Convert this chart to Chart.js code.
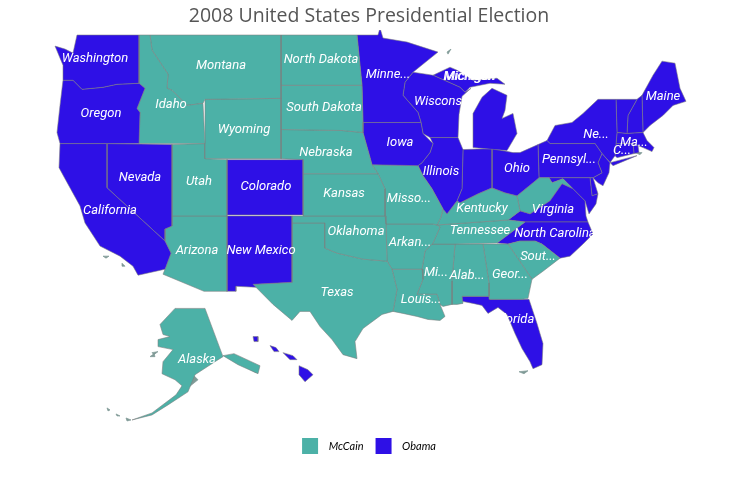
<!DOCTYPE html>
<html>
<head>
<meta charset="utf-8">
<title>2008 United States Presidential Election</title>
<script src="https://cdn.jsdelivr.net/npm/chart.js@4/dist/chart.umd.min.js"></script>
<style>
  html, body { margin: 0; padding: 0; background: #fff; }
  canvas { display: block; }
</style>
</head>
<body>
<canvas id="map" width="738" height="489"></canvas>
<script>
const chartTitle = '2008 United States Presidential Election'
const parties = ['McCain', 'Obama']
const partyColors = ['#4cb1a7', '#2e10e6']

// state name, party index into parties
const stateNames = ['Washington', 'Oregon', 'California', 'Nevada', 'Idaho', 'Montana', 'Wyoming', 'Utah', 'Colorado', 'Arizona',
  'New Mexico', 'North Dakota', 'South Dakota', 'Nebraska', 'Kansas', 'Oklahoma', 'Texas', 'Minnesota', 'Iowa', 'Missouri',
  'Arkansas', 'Louisiana', 'Wisconsin', 'Illinois', 'Michigan', 'Michigan', 'Indiana', 'Ohio', 'Kentucky', 'Tennessee',
  'Mississippi', 'Alabama', 'Georgia', 'Florida', 'South Carolina', 'North Carolina', 'Virginia', 'West Virginia', 'Maryland', 'Delaware',
  'Pennsylvania', 'New Jersey', 'New York', 'Connecticut', 'Rhode Island', 'Massachusetts', 'Vermont', 'New Hampshire', 'Maine', 'Alaska',
  'Alaska', 'Hawaii', 'Hawaii', 'Hawaii', 'Hawaii']
const stateParty = [1, 1, 1, 1, 0, 0, 0, 0, 1, 0,
  1, 0, 0, 0, 0, 0, 0, 1, 1, 0,
  0, 0, 1, 1, 1, 1, 1, 1, 0, 0,
  0, 0, 0, 1, 0, 1, 1, 0, 1, 1,
  1, 1, 1, 1, 1, 1, 1, 1, 1, 0,
  0, 1, 1, 1, 1]

// outlines in map units
const stateOutlines = [
  [[77,35],[139,35],[139,83],[117,84],[103,87],[82,89],[73,80],[63,80],[63,65],[55,46],[65,49],[73,53],[75,44]],
  [[63,80],[73,80],[82,89],[103,87],[117,84],[139,83],[145,88],[137,108],[140,112],[139,143],[60,143],[57,132],[60,105]],
  [[60,143],[107,143],[107,187],[165,240],[171,252],[165,268],[138,274],[133,265],[120,255],[100,245],[85,222],[80,205],[65,178],[59,167]],
  [[107,143],[172,144],[172,225],[165,228],[165,240],[107,187]],
  [[139,35],[150,35],[152,50],[168,74],[167,88],[172,90],[187,105],[203,103],[205,143],[139,143],[140,112],[137,108],[145,88],[139,83]],
  [[150,35],[281,35],[281,98],[205,99],[203,103],[187,105],[172,90],[167,88],[168,74],[152,50]],
  [[205,99],[281,98],[281,158],[205,158]],
  [[172,144],[205,143],[205,158],[227,159],[227,215],[172,215]],
  [[227,159],[303,159],[303,214],[227,214]],
  [[172,215],[227,215],[227,290],[204,290],[163,273],[165,268],[171,252],[165,240],[165,228],[172,225]],
  [[227,215],[292,215],[292,281],[253,283],[256,286],[236,285],[236,290],[227,290]],
  [[281,35],[357,35],[362,85],[281,85]],
  [[281,85],[362,85],[363,122],[363,132],[342,130],[281,129]],
  [[281,129],[342,130],[363,132],[372,164],[378,173],[303,173],[303,159],[281,158]],
  [[303,173],[378,173],[385,188],[385,215],[303,215]],
  [[292,215],[385,215],[386,223],[387,260],[363,258],[337,252],[325,247],[325,222],[292,222]],
  [[292,222],[325,222],[325,247],[337,252],[363,258],[387,260],[392,268],[397,288],[393,310],[382,313],[363,327],[355,340],[357,357],[343,353],[332,338],[320,325],[310,310],[300,310],[292,319],[273,303],[253,283],[292,281]],
  [[357,35],[378,35],[380,28],[383,38],[407,42],[438,52],[413,72],[405,82],[403,95],[418,112],[421,122],[363,122],[362,85]],
  [[363,122],[421,122],[423,133],[433,143],[430,152],[422,162],[418,165],[372,164],[363,132]],
  [[372,164],[418,165],[423,175],[432,188],[443,208],[441,216],[437,224],[433,223],[386,223],[385,215],[385,188],[378,173]],
  [[386,223],[433,223],[437,224],[440,226],[433,242],[425,250],[422,268],[392,268],[387,260]],
  [[392,268],[422,268],[423,278],[417,293],[437,293],[440,303],[445,315],[440,319],[428,318],[417,315],[403,312],[393,310],[397,288]],
  [[413,72],[433,75],[460,87],[465,92],[471,88],[462,96],[459,114],[458,137],[430,137],[423,133],[421,122],[418,112],[403,95],[405,82]],
  [[430,137],[458,137],[463,149],[462,188],[457,200],[447,213],[443,208],[432,188],[423,175],[418,165],[422,162],[430,152],[433,143]],
  [[433,75],[450,67],[457,70],[473,80],[497,78],[505,84],[490,83],[470,87],[465,92],[460,87]],
  [[492,88],[507,95],[505,110],[502,118],[513,113],[517,133],[507,150],[473,147],[473,113],[482,97]],
  [[463,149],[492,148],[492,187],[478,193],[460,202],[457,200],[462,188]],
  [[492,148],[513,152],[520,152],[538,144],[539,177],[533,182],[517,195],[505,192],[492,187]],
  [[437,224],[441,216],[443,208],[447,213],[457,200],[460,202],[478,193],[492,187],[505,192],[517,195],[520,210],[508,219]],
  [[437,224],[508,219],[525,221],[497,242],[455,243],[432,243],[433,242],[440,226]],
  [[432,243],[455,243],[452,280],[452,303],[443,305],[440,303],[437,293],[417,293],[423,278],[422,268],[425,250]],
  [[455,243],[483,243],[489,282],[489,295],[462,295],[463,302],[457,303],[452,303],[452,280]],
  [[483,243],[508,243],[532,278],[528,297],[522,298],[490,298],[489,295],[489,282]],
  [[462,295],[489,295],[490,298],[522,298],[529,298],[537,322],[543,342],[542,363],[533,367],[530,360],[522,347],[515,332],[507,313],[498,306],[488,312],[482,304],[473,302],[462,300]],
  [[508,243],[520,240],[535,240],[542,243],[560,257],[543,270],[532,278]],
  [[497,242],[525,221],[588,221],[593,233],[583,243],[570,255],[560,257],[542,243],[535,240],[520,240],[508,243]],
  [[508,219],[520,210],[530,213],[550,200],[562,183],[573,188],[585,200],[586,215],[588,221],[525,221]],
  [[517,195],[533,182],[539,177],[549,177],[552,182],[563,178],[573,188],[562,183],[550,200],[530,213],[520,210]],
  [[549,177],[590,177],[592,195],[598,193],[596,203],[589,213],[585,200],[573,188],[563,178],[552,182]],
  [[590,177],[593,177],[598,193],[592,195]],
  [[538,144],[547,140],[550,143],[595,143],[602,153],[598,162],[602,172],[593,177],[590,177],[539,177]],
  [[602,153],[610,162],[609,172],[603,185],[598,182],[593,177],[602,172],[598,162]],
  [[547,140],[555,125],[572,122],[583,113],[598,99],[616,99],[617,132],[615,155],[610,162],[637,155],[613,165],[602,153],[595,143],[550,143]],
  [[616,143],[633,143],[634,153],[617,157],[615,155]],
  [[633,143],[638,145],[639,152],[634,153]],
  [[617,132],[627,133],[643,132],[647,140],[654,147],[652,151],[643,147],[638,145],[633,143],[616,143]],
  [[616,99],[637,99],[628,115],[627,133],[617,132]],
  [[637,99],[642,95],[643,132],[627,133],[628,115]],
  [[642,95],[653,75],[662,61],[675,63],[680,88],[686,101],[673,105],[663,115],[650,125],[643,132]],
  [[175,307],[205,307],[223,355],[215,360],[195,373],[188,390],[168,403],[152,413],[132,418],[152,411],[176,393],[182,384],[175,378],[162,372],[163,360],[173,348],[158,345],[158,338],[170,335],[163,333],[160,323]],
  [[223,354],[234,352],[260,364],[258,372],[238,363]],
  [[270,344],[276,346],[279,350],[274,350]],
  [[283,351],[293,354],[297,358],[290,358]],
  [[253,335],[258,335],[258,340],[254,340]],
  [[299,364],[308,368],[313,373],[305,380],[299,373]]
]

// islands and bays, small marks along the coast
const coastMarks = [
  [[447,52],[451,49],[448,54]],
  [[103,255],[109,255],[106,257]],
  [[122,262],[125,265],[122,265]],
  [[107,406],[110,408],[108,409]],
  [[116,412],[120,414],[117,414]],
  [[126,416],[131,418],[127,419]],
  [[150,355],[154,352],[155,355]],
  [[158,350],[154,353],[152,351]],
  [[192,372],[198,378],[188,386],[190,378]],
  [[635,152],[642,152],[640,154]],
  [[656,114],[662,110],[660,116]],
  [[519,370],[528,369],[524,372]],
  [[236,354],[258,365],[256,371],[240,362]]
]
const bayOutlines = [
  [[584,182],[586,182],[588,196],[588,212],[586,212],[586,200]],
  [[77,42],[81,42],[82,54],[78,53]]
]
const bayColors = ['#ffffff', '#b9b5ef']

const labelNames = ['Washington', 'Oregon', 'California', 'Nevada', 'Idaho', 'Montana', 'Wyoming', 'Utah', 'Colorado', 'Arizona',
  'New Mexico', 'North Dakota', 'South Dakota', 'Nebraska', 'Kansas', 'Oklahoma', 'Texas', 'Minne...', 'Iowa', 'Misso...',
  'Arkan...', 'Louis...', 'Wisconsin', 'Michigan', 'Michigan', 'Illinois', 'Kentucky', 'Tennessee', 'Mi...', 'Alab...',
  'Geor...', 'Sout...', 'North Carolina', 'Virginia', 'Ohio', 'Pennsyl...', 'Ne...', 'Ma...', 'C...', 'Maine',
  'Florida', 'Alaska']
const labelX = [95, 101, 110, 140, 171, 221, 244, 199, 266, 197,
  261, 321, 324, 326, 344, 356, 337, 388, 400, 409,
  410, 421, 443, 469, 470, 441, 482, 480, 436, 467,
  510, 538, 555, 553, 517, 569, 596, 634, 622, 663,
  515, 197]
const labelY = [59, 113, 210, 177, 104, 66, 129, 181, 186, 250,
  250, 60, 107, 152, 193, 231, 291, 75, 142, 198,
  242, 298, 101, 77, 77, 171, 208, 230, 272, 275,
  274, 256, 233, 209, 168, 159, 134, 142, 150, 96,
  318, 358]

function polygon(outline, fillColor, lineColor) {
  return {
    data: outline.concat([outline[0]]).map(function (p) { return { x: p[0], y: p[1] } }),
    showLine: true,
    fill: 'shape',
    tension: 0,
    backgroundColor: fillColor,
    borderColor: lineColor,
    borderWidth: 0.7,
    pointRadius: 0
  }
}

var datasets = []
for (var i = 0; i < stateOutlines.length; i++) {
  var ds = polygon(stateOutlines[i], partyColors[stateParty[i]], 'rgba(125,125,125,0.8)')
  ds.label = stateNames[i]
  datasets.push(ds)
}
for (var i = 0; i < coastMarks.length; i++) {
  datasets.push(polygon(coastMarks[i], '#7f9a96', '#7f9a96'))
}
for (var i = 0; i < bayOutlines.length; i++) {
  datasets.push(polygon(bayOutlines[i], bayColors[i], bayColors[i]))
}

const stateLabels = {
  id: 'stateLabels',
  afterDatasetsDraw: function (chart) {
    var ctx = chart.ctx
    ctx.save()
    ctx.font = 'italic 13px Roboto'
    ctx.fillStyle = '#ffffff'
    ctx.textAlign = 'center'
    ctx.textBaseline = 'middle'
    for (var i = 0; i < labelNames.length; i++) {
      ctx.fillText(labelNames[i], chart.scales.x.getPixelForValue(labelX[i]), chart.scales.y.getPixelForValue(labelY[i]))
    }
    ctx.restore()
  }
}

new Chart(document.getElementById('map'), {
  type: 'scatter',
  data: { datasets: datasets },
  plugins: [stateLabels],
  options: {
    responsive: false,
    animation: false,
    events: [],
    layout: { padding: { bottom: 25 } },
    scales: {
      x: { type: 'linear', display: false, min: 0, max: 738 },
      y: { type: 'linear', display: false, min: 30, max: 424, reverse: true }
    },
    plugins: {
      tooltip: { enabled: false },
      title: {
        display: true,
        text: chartTitle,
        color: '#555555',
        font: { family: '"Open Sans"', size: 19.5, weight: 'normal' },
        padding: { top: 4.6, bottom: 2 }
      },
      legend: {
        display: true,
        position: 'bottom',
        labels: {
          boxWidth: 16,
          boxHeight: 16,
          padding: 12,
          color: '#555555',
          font: { family: 'Lato', size: 11, style: 'italic' },
          generateLabels: function () {
            return parties.map(function (name, i) {
              return { text: '\u2002' + name, fillStyle: partyColors[i], strokeStyle: partyColors[i], lineWidth: 0, datasetIndex: i }
            })
          }
        }
      }
    }
  }
})
</script>
</body>
</html>
